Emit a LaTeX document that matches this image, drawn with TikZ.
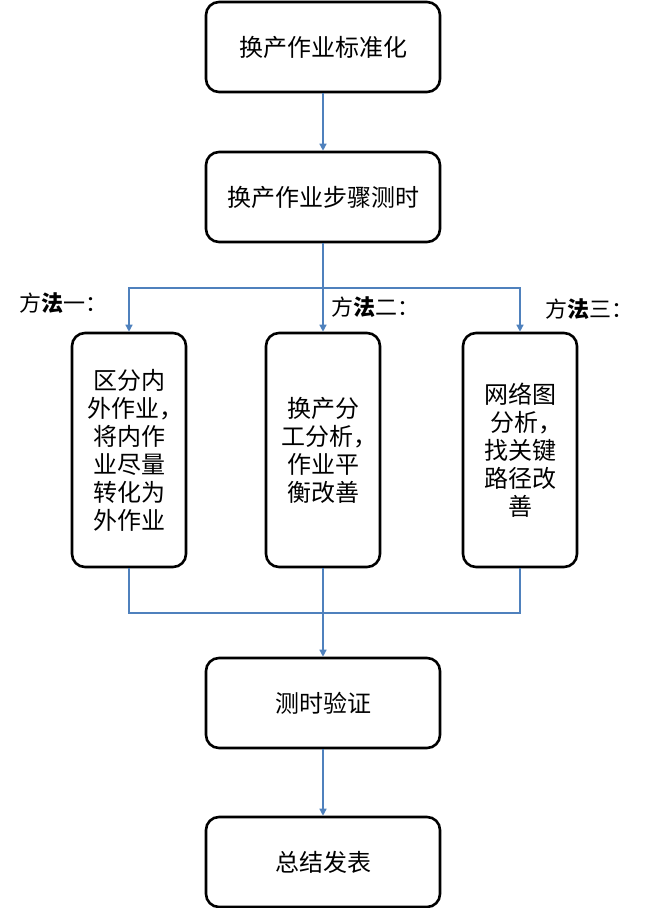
\documentclass[tikz,border=0pt]{standalone}
\usepackage{fontspec}
\setmainfont{Noto Sans CJK SC}
\usepackage{tikz}
\usetikzlibrary{arrows.meta}

\definecolor{linkblue}{RGB}{79,129,189}
\newcommand{\hcomma}{\makebox[0.5em][l]{，}}

\tikzset{
  stepbox/.style={draw=black, line width=2.6pt, rounded corners=13pt,
    align=center, inner sep=0pt, font=\fontsize{24}{28}\selectfont},
  widebox/.style={stepbox, minimum width=234pt, minimum height=90pt},
  tallbox/.style={stepbox, minimum width=114pt, minimum height=234pt},
  link/.style={linkblue, line width=1.4pt},
  tip/.style={link, -{Triangle[length=7pt, width=7pt]}},
  methodlabel/.style={font=\fontsize{22}{24}\selectfont},
}

\begin{document}
\begin{tikzpicture}[x=1pt, y=-1pt]
  \useasboundingbox (0,0) rectangle (653,908);

  % main column
  \node[widebox] (norm) at (323,47) {换产作业标准化};
  \node[widebox] (timing) at (323,197) {换产作业步骤测时};
  \node[widebox] (verify) at (323,703) {测时验证};
  \node[widebox] (report) at (323,862) {总结发表};

  % three methods
  \node[tallbox] (m1) at (129,450) {区分内\\外作业\hcomma\\将内作\\业尽量\\转化为\\外作业};
  \node[tallbox] (m2) at (323,450) {换产分\\工分析\hcomma\\作业平\\衡改善};
  \node[tallbox] (m3) at (520,450) {网络图\\分析\hcomma\\找关键\\路径改\\善};

  \node[methodlabel] (l1) at (58,303) {方\textbf{法}一\makebox[0.5em][l]{：}};
  \node[methodlabel] (l2) at (370,307) {方\textbf{法}二\makebox[0.5em][l]{：}};
  \node[methodlabel] (l3) at (584,309) {方\textbf{法}三\makebox[0.5em][l]{：}};

  \coordinate (split) at (323,288);
  \coordinate (join) at (323,613);

  \draw[tip] (norm) -- (timing);
  \draw[tip] (timing) -- (m2);
  \draw[tip] (split) -| (m1);
  \draw[tip] (split) -| (m3);
  \draw[link] (m1) |- (join);
  \draw[link] (m3) |- (join);
  \draw[tip] (m2) -- (verify);
  \draw[tip] (verify) -- (report);
\end{tikzpicture}
\end{document}
